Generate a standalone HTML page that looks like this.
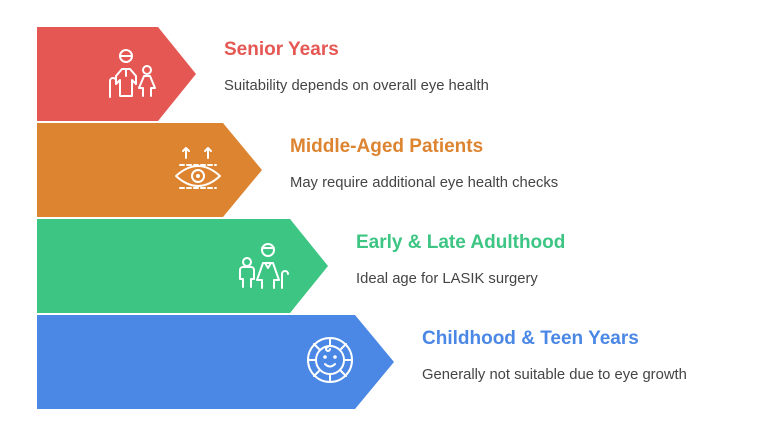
<!DOCTYPE html>
<html><head><meta charset="utf-8"><style>
body{margin:0;width:780px;height:434px;background:#fff;position:relative;font-family:"Liberation Sans",Arial,sans-serif;overflow:hidden}
.t{position:absolute;font-weight:bold;font-size:19px}
.d{position:absolute;font-size:14.8px;color:#444}
</style></head><body>
<svg width="780" height="434" style="position:absolute;left:0;top:0" fill="none" stroke="#fff" stroke-width="2" stroke-linecap="round" stroke-linejoin="round">
<polygon points="37,27 158,27 196,74 158,121 37,121" fill="#E55753" stroke="none"/>
<polygon points="37,123 223,123 262,170 223,217 37,217" fill="#DD8431" stroke="none"/>
<polygon points="37,219 290,219 328,266 290,313 37,313" fill="#3CC583" stroke="none"/>
<polygon points="37,315 355,315 394,362 355,409 37,409" fill="#4B87E5" stroke="none"/>
<circle cx="126" cy="56" r="6"/><path d="M121,56h10"/>
<path d="M120,96v-16l-4,4v-8l6,-7h8l6,7v8l-4,-4v16z"/><path d="M126,70v6"/>
<path d="M110,97v-16a3,3 0 0 1 6,0"/>
<circle cx="147" cy="70" r="4"/><path d="M143,96v-8h-4l5,-12h6l5,12h-4v8"/>
<path d="M186,158v-10m-3,3l3,-3l3,3M208,158v-10m-3,3l3,-3l3,3"/>
<path d="M176,176q22,-20 44,0q-22,20 -44,0z"/><circle cx="198" cy="176" r="6"/><circle cx="198" cy="176" r="1"/>
<path d="M180,165h36M180,188h36" stroke-dasharray="4 3"/>
<circle cx="247" cy="262" r="4"/><path d="M243,287v-8h-3v-9a3,3 0 0 1 3,-3h8a3,3 0 0 1 3,3v9h-3v8"/>
<circle cx="268" cy="250" r="6"/><path d="M262,248h12"/>
<path d="M262,288v-8h-5l6,-17h10l6,17h-5v8"/><path d="M265,263l3,5l3,-5"/>
<path d="M282,288v-14a3,3 0 0 1 6,0"/>
<circle cx="330" cy="360" r="22"/><circle cx="330" cy="360" r="14"/>
<path d="M330,338v8M330,374v8M308,360h8M344,360h8M314,344l6,6M340,370l6,6M346,344l-6,6M314,376l6,-6"/>
<path d="M325,364q5,5 10,0"/><circle cx="325" cy="357" r=".8"/><circle cx="335" cy="357" r=".8"/><path d="M330,349a2,2 0 1 1 -2,-2"/>
</svg>
<div class="t" style="left:224px;top:39px;color:#E55753">Senior Years</div>
<div class="d" style="left:224px;top:78px">Suitability depends on overall eye health</div>
<div class="t" style="left:290px;top:136px;color:#DD8431">Middle-Aged Patients</div>
<div class="d" style="left:290px;top:175px">May require additional eye health checks</div>
<div class="t" style="left:356px;top:232px;color:#3CC583">Early &amp; Late Adulthood</div>
<div class="d" style="left:356px;top:271px">Ideal age for LASIK surgery</div>
<div class="t" style="left:422px;top:328px;color:#4B87E5">Childhood &amp; Teen Years</div>
<div class="d" style="left:422px;top:367px">Generally not suitable due to eye growth</div>
</body></html>
